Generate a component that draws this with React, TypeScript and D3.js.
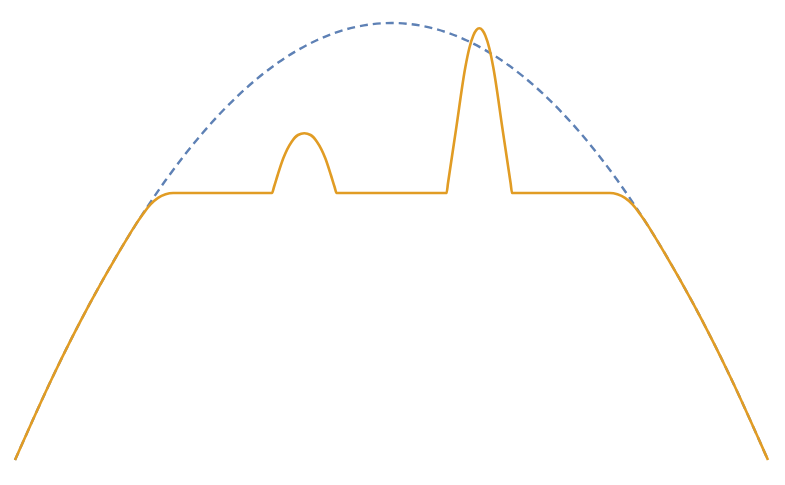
import { useEffect, useRef } from 'react';
import * as d3 from 'd3';

const W = 785, H = 485;
const X0 = 15, X1 = 768, Y0 = 460, Y1 = 23;

// dashed envelope (blue)
const envX = [-1, -0.9, -0.8, -0.7, -0.6, -0.5, -0.4, -0.3, -0.2, -0.1, 0, 0.1, 0.2, 0.3, 0.4, 0.5, 0.6, 0.7, 0.8, 0.9, 1];
const envY = [0, 0.19, 0.36, 0.51, 0.64, 0.75, 0.84, 0.91, 0.96, 0.99, 1, 0.99, 0.96, 0.91, 0.84, 0.75, 0.64, 0.51, 0.36, 0.19, 0];

// solid curve (orange): arms, plateau, small bump, tall spike
const curveX = [
  -1, -0.9, -0.8, -0.7, -0.68, -0.66, -0.64, -0.62, -0.6, -0.58,
  -0.3174, -0.3121, -0.3023, -0.2874, -0.2651, -0.2483, -0.2316, -0.2149, -0.1981, -0.1758, -0.161, -0.1511, -0.1458,
  0.1461, 0.1501, 0.1713, 0.196, 0.2066, 0.2173, 0.2252, 0.2332, 0.2412, 0.2491, 0.2598, 0.2704, 0.2951, 0.3163, 0.3203,
  0.58, 0.6, 0.62, 0.64, 0.66, 0.68, 0.7, 0.8, 0.9, 1,
];
const curveY = [
  0, 0.19, 0.36, 0.51, 0.538, 0.563, 0.585, 0.6, 0.608, 0.611,
  0.611, 0.6247, 0.6522, 0.6904, 0.7284, 0.7437, 0.7476, 0.7437, 0.7284, 0.6904, 0.6522, 0.6247, 0.611,
  0.611, 0.6339, 0.7561, 0.8982, 0.9421, 0.9714, 0.9838, 0.9879, 0.9838, 0.9714, 0.9421, 0.8982, 0.7561, 0.6339, 0.611,
  0.611, 0.608, 0.6, 0.585, 0.563, 0.538, 0.51, 0.36, 0.19, 0,
];

export default function App() {
  const svgRef = useRef<SVGSVGElement>(null);

  useEffect(() => {
    const svg = d3.select(svgRef.current);
    svg.selectAll('*').remove();

    const x = d3.scaleLinear().domain([-1, 1]).range([X0, X1]);
    const y = d3.scaleLinear().domain([0, 1]).range([Y0, Y1]);

    const env = envX.map((v, i) => [v, envY[i]] as [number, number]);
    const crv = curveX.map((v, i) => [v, curveY[i]] as [number, number]);

    const envLine = d3.line<[number, number]>()
      .x((d) => x(d[0]))
      .y((d) => y(d[1]))
      .curve(d3.curveNatural);

    const crvLine = d3.line<[number, number]>()
      .x((d) => x(d[0]))
      .y((d) => y(d[1]))
      .curve(d3.curveMonotoneX);

    svg.append('path')
      .attr('d', envLine(env))
      .attr('fill', 'none')
      .attr('stroke', '#5e81b5')
      .attr('stroke-width', 2.4)
      .attr('stroke-dasharray', '8,5');

    svg.append('path')
      .attr('d', crvLine(crv))
      .attr('fill', 'none')
      .attr('stroke', '#e19c24')
      .attr('stroke-width', 2.6)
      .attr('stroke-linejoin', 'round');
  }, []);

  return (
    <svg
      ref={svgRef}
      width={W}
      height={H}
      style={{ position: 'absolute', left: 0, top: 0, background: '#fff' }}
    />
  );
}
